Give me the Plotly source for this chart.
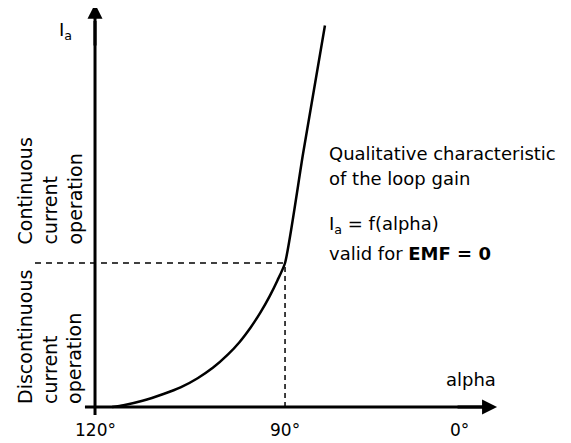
import plotly.graph_objects as go

# qualitative axis positions (120° -> 0, 90° -> 1, 0° -> ~1.92)
alpha_tick_pos = [0.0, 1.0, 1.916]
alpha_tick_labels = ["120°", "90°", "0°"]

# loop gain characteristic I_a = f(alpha), arbitrary units
curve_alpha = [0.09, 0.15, 0.25, 0.36, 0.45, 0.54, 0.62, 0.70, 0.76, 0.82, 0.87, 0.92, 0.96, 1.0, 1.095, 1.21]
curve_ia = [0.0, 0.012, 0.043, 0.09, 0.136, 0.2, 0.272, 0.365, 0.45, 0.554, 0.655, 0.772, 0.879, 1.0, 1.76, 2.65]

# boundary between discontinuous / continuous current operation
boundary_alpha = 1.0
boundary_ia = 1.0

FONT = "DejaVu Sans"

fig = go.Figure()

# curve
fig.add_trace(go.Scatter(x=curve_alpha, y=curve_ia, mode="lines",
                         line=dict(color="black", width=2.5, shape="spline", smoothing=0.6),
                         hoverinfo="skip"))

# dashed guide lines
fig.add_trace(go.Scatter(x=[-0.316, boundary_alpha], y=[boundary_ia, boundary_ia], mode="lines",
                         line=dict(color="black", width=1.5, dash="6px,5px"), hoverinfo="skip"))
fig.add_trace(go.Scatter(x=[boundary_alpha, boundary_alpha], y=[0, boundary_ia], mode="lines",
                         line=dict(color="black", width=1.5, dash="5px,4px"), hoverinfo="skip"))

# axis lines
fig.add_trace(go.Scatter(x=[-0.053, 2.05], y=[0, 0], mode="lines",
                         line=dict(color="black", width=3), hoverinfo="skip"))
fig.add_trace(go.Scatter(x=[0, 0], y=[-0.056, 2.68], mode="lines",
                         line=dict(color="black", width=3), hoverinfo="skip"))

ann = []
# arrowheads
ann.append(dict(x=2.116, y=0, ax=1.9, ay=0, xref="x", yref="y", axref="x", ayref="y",
                showarrow=True, arrowhead=2, arrowsize=1.0, arrowwidth=3, arrowcolor="black", text=""))
ann.append(dict(x=0, y=2.80, ax=0, ay=2.5, xref="x", yref="y", axref="x", ayref="y",
                showarrow=True, arrowhead=2, arrowsize=1.0, arrowwidth=3, arrowcolor="black", text=""))

# tick labels
for p, t in zip(alpha_tick_pos, alpha_tick_labels):
    ann.append(dict(x=p, y=-0.16, text=t, showarrow=False, xanchor="center", yanchor="middle",
                    font=dict(family=FONT, size=17, color="black")))

ann.append(dict(x=1.979, y=0.19, text="alpha", showarrow=False, xanchor="center", yanchor="middle",
                font=dict(family=FONT, size=18, color="black")))
ann.append(dict(x=-0.153, y=2.61, text="I<sub>a</sub>", showarrow=False, xanchor="center", yanchor="middle",
                font=dict(family=FONT, size=18, color="black")))

# description text
desc = [
    ("Qualitative characteristic", 1.764),
    ("of the loop gain", 1.59),
    ("I<sub>a</sub> = f(alpha)", 1.264),
    ("valid for <b>EMF = 0</b>", 1.069),
]
for t, yy in desc:
    ann.append(dict(x=1.222, y=yy, text=t, showarrow=False, xanchor="left", yanchor="middle",
                    font=dict(family=FONT, size=18, color="black")))

# region labels (rotated)
ann.append(dict(x=-0.237, y=1.118, text="Continuous<br>current<br>operation", textangle=-90,
                showarrow=False, align="left", xanchor="center", yanchor="bottom",
                font=dict(family=FONT, size=19, color="black")))
ann.append(dict(x=-0.237, y=0.007, text="Discontinuous<br>current<br>operation", textangle=-90,
                showarrow=False, align="left", xanchor="center", yanchor="bottom",
                font=dict(family=FONT, size=19, color="black")))

# page body adds an 8px margin, so the figure is 8px smaller than the window
fig.update_layout(
    width=563, height=435,
    margin=dict(l=0, r=0, t=0, b=0),
    paper_bgcolor="white", plot_bgcolor="white",
    showlegend=False,
    annotations=ann,
    xaxis=dict(range=[-0.458, 2.505], visible=False),
    yaxis=dict(range=[-0.25, 2.771], visible=False),
)

fig.write_html("out.html")
